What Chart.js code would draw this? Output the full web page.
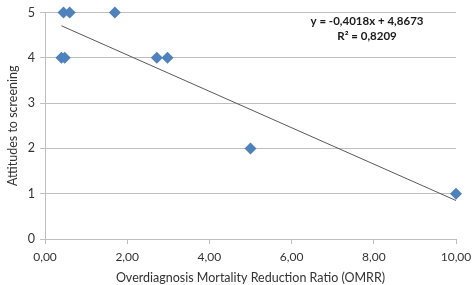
<!DOCTYPE html>
<html>
<head>
<meta charset="utf-8">
<script src="https://cdn.jsdelivr.net/npm/chart.js@4/dist/chart.umd.min.js"></script>
<style>
  html, body { margin: 0; padding: 0; background: #ffffff; }
  #wrap { width: 472px; height: 285px; position: relative; }
</style>
</head>
<body>
<div id="wrap"><canvas id="c" width="472" height="285"></canvas></div>
<script>
// Data
const omrr      = [0.45, 0.60, 1.70, 0.40, 0.48, 2.72, 2.98, 5.00, 10.00];
const attitudes = [5, 5, 5, 4, 4, 4, 4, 2, 1];
const xTicks = [0, 2, 4, 6, 8, 10];
const yTicks = [0, 1, 2, 3, 4, 5];
// Linear trendline as printed on the chart
const trendSlope = -0.4018;
const trendIntercept = 4.8673;
const trendRange = [0.40, 10.00];
const equationLines = ['y = -0,4018x + 4,8673', 'R² = 0,8209'];
const xTitle = 'Overdiagnosis Mortality Reduction Ratio (OMRR)';
const yTitle = 'Attitudes to screening';

const points = omrr.map((x, i) => ({ x: x, y: attitudes[i] }));
const trend = trendRange.map(x => ({ x: x, y: trendSlope * x + trendIntercept }));

const FONT = 'Lato, "Liberation Sans", sans-serif';
const TXT = '#333333';
const GRID = '#bfbfbf';

const equationPlugin = {
  id: 'equation',
  afterDatasetsDraw(chart) {
    const ctx = chart.ctx;
    ctx.save();
    ctx.font = 'bold 11.5px ' + FONT;
    ctx.fillStyle = '#1a1a1a';
    ctx.textAlign = 'center';
    ctx.textBaseline = 'middle';
    const cx = 367;
    ctx.fillText(equationLines[0], cx, 21);
    ctx.fillText(equationLines[1], cx, 36);
    ctx.restore();
  }
};

new Chart(document.getElementById('c'), {
  type: 'scatter',
  data: {
    datasets: [
      {
        label: 'Attitudes',
        data: points,
        pointStyle: 'rectRot',
        pointRadius: 6,
        pointHoverRadius: 6,
        backgroundColor: '#4F81BD',
        borderColor: '#4F81BD',
        borderWidth: 0,
        clip: false,
        order: 1
      },
      {
        type: 'line',
        label: 'Trend',
        data: trend,
        borderColor: '#595959',
        borderWidth: 1,
        pointRadius: 0,
        fill: false,
        order: 2
      }
    ]
  },
  options: {
    responsive: false,
    animation: false,
    devicePixelRatio: 1,
    layout: { padding: { top: 6, right: 16, left: 0, bottom: 0 } },
    plugins: {
      legend: { display: false },
      tooltip: { enabled: false }
    },
    scales: {
      x: {
        type: 'linear',
        min: 0, max: 10,
        afterBuildTicks(scale) { scale.ticks = xTicks.map(v => ({ value: v })); },
        afterFit(scale) { scale.height = 46; scale.paddingRight = 0; },
        ticks: {
          color: TXT,
          font: { family: FONT, size: 12 },
          padding: 6,
          maxRotation: 0,
          callback: v => v.toFixed(2).replace('.', ',')
        },
        grid: { drawOnChartArea: false, drawTicks: true, tickLength: 5, color: GRID },
        border: { color: GRID, width: 1 },
        title: {
          display: true, text: xTitle, color: TXT,
          font: { family: FONT, size: 12.5 },
          padding: { top: 3, bottom: 0 }
        }
      },
      y: {
        type: 'linear',
        min: 0, max: 5,
        afterBuildTicks(scale) { scale.ticks = yTicks.map(v => ({ value: v })); },
        afterFit(scale) { scale.width = 45; },
        ticks: {
          color: TXT,
          font: { family: FONT, size: 12.5 },
          padding: 5
        },
        grid: { drawOnChartArea: true, drawTicks: true, tickLength: 5, color: GRID },
        border: { color: GRID, width: 1 },
        title: {
          display: true, text: yTitle, color: TXT,
          font: { family: FONT, size: 12.5 },
          padding: { top: 5, bottom: 0 }
        }
      }
    }
  },
  plugins: [equationPlugin]
});
</script>
</body>
</html>
